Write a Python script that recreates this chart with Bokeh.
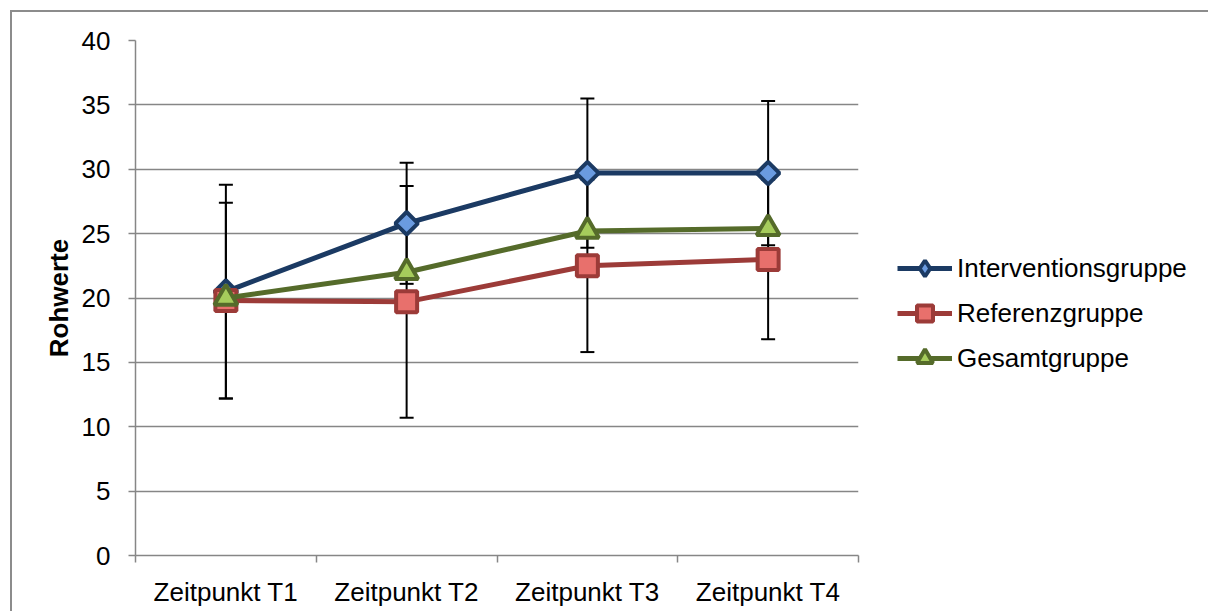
import math
from bokeh.plotting import figure
from bokeh.models import (ColumnDataSource, FixedTicker, Whisker, TeeHead,
                          Legend, LegendItem, Range1d)
from bokeh.embed import file_html
from bokeh.resources import INLINE

# ---- data ----
categories = ["Zeitpunkt T1", "Zeitpunkt T2", "Zeitpunkt T3", "Zeitpunkt T4"]
intervention = [20.5, 25.8, 29.7, 29.7]
intervention_sd = [8.3, 4.7, 5.8, 5.6]
referenz = [19.8, 19.7, 22.5, 23.0]
referenz_sd = [7.6, 9.0, 6.7, 6.2]
gesamt = [20.0, 22.0, 25.2, 25.4]
y_ticks = [0, 5, 10, 15, 20, 25, 30, 35, 40]
series_names = ["Interventionsgruppe", "Referenzgruppe", "Gesamtgruppe"]

FONT = "Liberation Sans"
GRAY = "#868686"
FS = "26px"

x = [i + 0.5 for i in range(len(categories))]
boundaries = [float(i) for i in range(len(categories) + 1)]

p = figure(frame_width=723, frame_height=515,
           x_range=Range1d(0, len(categories)), y_range=Range1d(y_ticks[0], y_ticks[-1]),
           output_backend="svg", toolbar_location=None,
           min_border_left=135, min_border_right=13,
           min_border_top=40, min_border_bottom=56)
p.outline_line_color = None
p.background_fill_color = "white"
p.border_fill_color = None
# outer chart-area border (left and top edges; right/bottom are cropped in the reference)
p.styles = {
    "background-color": "white",
    "background-image": "linear-gradient(#8C8C8C, #8C8C8C), linear-gradient(#8C8C8C, #8C8C8C)",
    "background-position": "10px 10px, 10px 10px",
    "background-size": "2px 100%, 100% 2px",
    "background-repeat": "no-repeat",
}

# grid
p.xgrid.visible = False
p.ygrid.ticker = FixedTicker(ticks=y_ticks)
p.ygrid.grid_line_color = GRAY
p.ygrid.grid_line_width = 1.5

# y axis
p.yaxis.ticker = FixedTicker(ticks=y_ticks)
p.yaxis.axis_line_color = GRAY
p.yaxis.axis_line_width = 1.5
p.yaxis.major_tick_line_color = GRAY
p.yaxis.major_tick_line_width = 1.5
p.yaxis.major_tick_out = 7
p.yaxis.major_tick_in = 0
p.yaxis.minor_tick_line_color = None
p.yaxis.major_label_standoff = 18
p.yaxis.major_label_text_font = FONT
p.yaxis.major_label_text_font_size = FS
p.yaxis.major_label_text_color = "black"
p.yaxis.axis_label = "Rohwerte"
p.yaxis.axis_label_text_font = FONT
p.yaxis.axis_label_text_font_size = FS
p.yaxis.axis_label_text_font_style = "bold"
p.yaxis.axis_label_text_color = "black"
p.yaxis.axis_label_standoff = 5

# x axis: labels at category centres, ticks at boundaries
p.xaxis.ticker = FixedTicker(ticks=x, minor_ticks=boundaries)
p.xaxis.major_label_overrides = {xv: c for xv, c in zip(x, categories)}
p.xaxis.axis_line_color = GRAY
p.xaxis.axis_line_width = 1.5
p.xaxis.major_tick_line_color = None
p.xaxis.major_tick_out = 0
p.xaxis.major_tick_in = 0
p.xaxis.minor_tick_line_color = GRAY
p.xaxis.minor_tick_line_width = 1.5
p.xaxis.minor_tick_out = 7
p.xaxis.minor_tick_in = 0
p.xaxis.major_label_standoff = 14
p.xaxis.major_label_text_font = FONT
p.xaxis.major_label_text_font_size = FS
p.xaxis.major_label_text_color = "black"

# error bars
for vals, sds in [(intervention, intervention_sd), (referenz, referenz_sd)]:
    src = ColumnDataSource(dict(x=x,
                                upper=[v + s for v, s in zip(vals, sds)],
                                lower=[v - s for v, s in zip(vals, sds)]))
    w = Whisker(base="x", upper="upper", lower="lower", source=src,
                line_color="black", line_width=2,
                upper_head=TeeHead(size=14, line_color="black", line_width=2),
                lower_head=TeeHead(size=14, line_color="black", line_width=2))
    p.add_layout(w)

styles = [
    dict(vals=intervention, line="#1B3A63", fill="#6A9BE0", marker="square", angle=math.pi / 4,
         size=16, legend_marker="diamond"),
    dict(vals=referenz, line="#9C3B38", fill="#E8706C", marker="square", angle=0.0,
         size=21, legend_marker=None),
    dict(vals=gesamt, line="#556B2A", fill="#A6CC5C", marker="triangle", angle=0.0,
         size=23, legend_marker=None),
]

items = []
for name, st in zip(series_names, styles):
    ln = p.line(x, st["vals"], line_color=st["line"], line_width=5)
    sc = p.scatter(x, st["vals"], marker=st["marker"], angle=st["angle"], size=st["size"],
                   fill_color=st["fill"], line_color=st["line"], line_width=4)
    leg_r = sc
    if st["legend_marker"]:
        # legend shows the diamond shape (legend markers are drawn unrotated)
        leg_r = p.scatter(x, st["vals"], marker=st["legend_marker"], size=st["size"],
                          fill_color=st["fill"], line_color=st["line"], line_width=4,
                          visible=False)
    items.append(LegendItem(label=name, renderers=[ln, leg_r]))

legend = Legend(items=items, location=(39, 177), orientation="vertical",
                glyph_width=55, glyph_height=40, spacing=5, padding=0, margin=0,
                label_standoff=5, label_text_font=FONT, label_text_font_size=FS,
                label_text_color="black", inactive_fill_alpha=0,
                background_fill_alpha=0, border_line_color=None)
p.add_layout(legend, "right")

open("out.html", "w").write(file_html(p, INLINE))
